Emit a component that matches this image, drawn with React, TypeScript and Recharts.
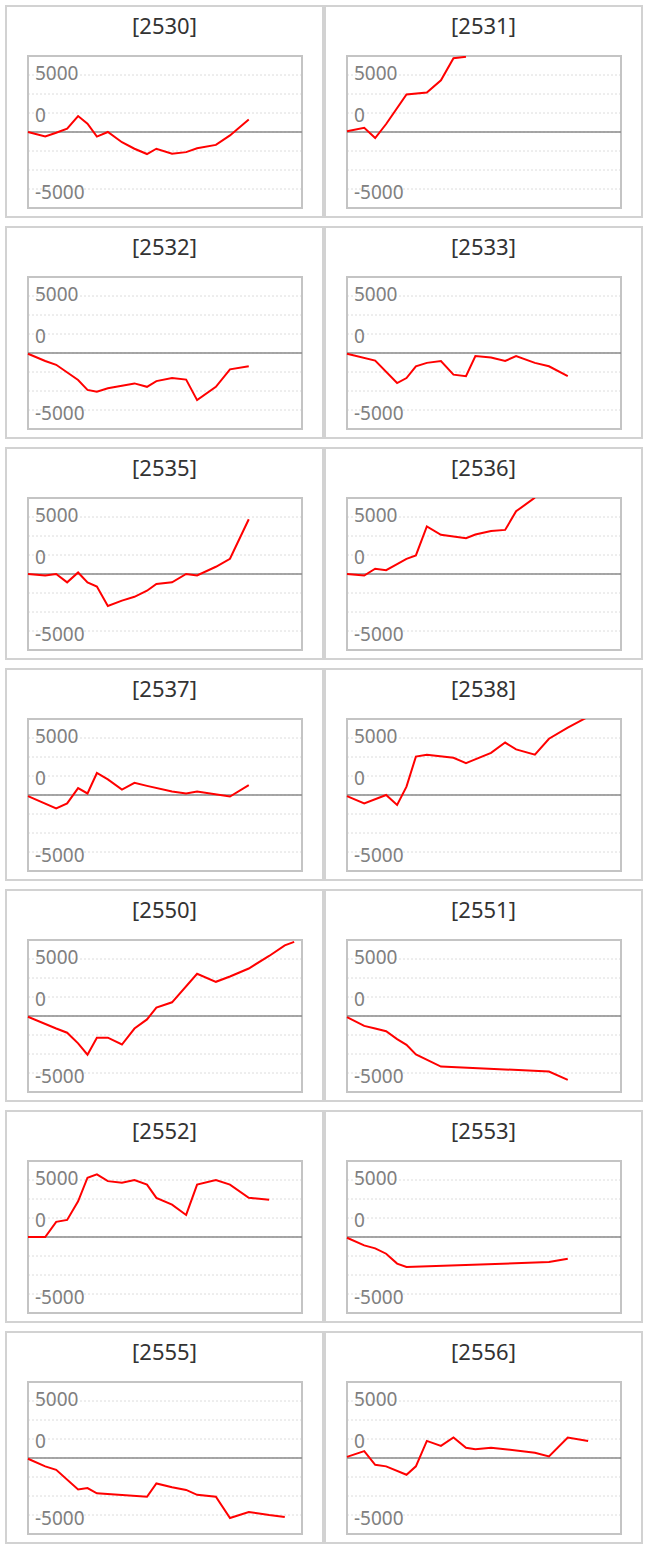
import React from "react";
import { LineChart, Line, XAxis, YAxis, CartesianGrid, ReferenceLine, ReferenceArea } from "recharts";

// shared observation dates (day offsets within the period)
const days = [0, 11, 18, 25, 32, 38, 44, 51, 60, 68, 76, 82, 92, 101, 108, 120, 129, 141, 154, 164, 170];

const codes = ["2530", "2531", "2532", "2533", "2535", "2536", "2537", "2538", "2550", "2551", "2552", "2553", "2555", "2556"];

const s2530 = [0, -600, -100, 450, 2100, 1100, -600, 0, -1350, -2200, -2900, -2200, -2850, -2650, -2150, -1700, -450, 1650, null, null, null];
const s2531 = [100, 550, -800, 1050, null, 4950, null, 5200, 6800, 9700, 9900, null, null, null, null, null, null, null, null, null, null];
const s2532 = [-100, -1050, -1550, null, -3550, -4850, -5100, -4650, null, -4000, -4450, -3700, -3300, -3500, -6200, -4450, -2150, -1750, null, null, null];
const s2533 = [-100, null, -1000, null, -3950, -3300, -1750, -1300, -1050, -2850, -3050, -400, -600, -1050, -400, -1300, -1750, -3050, null, null, null];
const s2535 = [0, -200, 0, -1100, 200, -1100, -1650, -4200, -3500, -3000, -2200, -1300, -1100, 0, -200, 950, 2000, 7200, null, null, null];
const s2536 = [0, -200, 700, 500, 1300, 2000, 2450, 6250, 5150, null, 4700, 5200, 5650, 5800, 8250, 10050, null, null, null, null, null];
const s2537 = [-150, null, -1750, -1100, 900, 200, 2900, 2050, 700, 1600, 1200, null, 450, 200, 450, null, -200, 1300, null, null, null];
const s2538 = [-150, -1100, null, 0, -1300, 1100, 5050, 5300, null, 4900, 4200, null, 5550, 6900, 6000, 5300, 7400, 8850, 10300, null, null];
const s2550 = [-100, null, -1650, -2200, -3600, -5100, -2850, -2850, -3750, -1650, -450, 1100, 1800, null, 5550, 4500, 5200, 6250, 7900, 9300, 9750];
const s2551 = [-150, -1300, -1650, -2000, -3050, -3800, -5050, null, -6650, null, null, null, null, null, null, null, -7300, -8400, null, null, null];
const s2552 = [0, 0, 2000, 2250, 4700, 7800, 8250, 7350, 7150, 7500, 6900, 5150, 4250, 2900, 6900, 7500, 6900, 5150, 4900, null, null];
const s2553 = [-100, -1100, -1500, -2200, -3500, -3950, null, null, null, null, null, null, null, null, null, null, -3300, -2850, null, null, null];
const s2555 = [-100, -1100, -1550, null, -4150, -3950, -4650, null, null, null, -5100, -3350, -3850, -4200, -4850, -5100, -7900, -7100, -7500, -7750, null];
const s2556 = [150, 900, -900, -1100, null, -2200, -1100, 2250, 1600, 2700, 1350, 1150, 1350, 1150, null, 700, 200, 2700, 2250, null, null];

const seriesList = [s2530, s2531, s2532, s2533, s2535, s2536, s2537, s2538, s2550, s2551, s2552, s2553, s2555, s2556];

// y axis: gridlines and the labels as printed on the picture
const gridTicks = [-10000, -7500, -5000, -2500, 0, 2500, 5000, 7500, 10000];
const labelTickValues = [7500, 2500, -7500];
const labelTickTexts = ["5000", "0", "-5000"];
const labelTickShift = [4.6, 9.3, 9.8];

const FONT = "'Noto Sans', 'Open Sans', sans-serif";
const M = 10;

function renderTick(props: any) {
  const v = props.payload && props.payload.value;
  const i = labelTickValues.indexOf(v);
  if (i < 0) return <g />;
  return (
    <text x={M + 7} y={props.y + labelTickShift[i]} fill="#808080" fontSize={19} fontFamily={FONT} textAnchor="start">
      {labelTickTexts[i]}
    </text>
  );
}

function Panel({ code, series, col, row }: { code: string; series: (number | null)[]; col: number; row: number }) {
  const data = days.map((d, i) => ({ day: d, v: series[i] }));
  return (
    <div
      style={{
        position: "absolute",
        left: 5 + col * 319,
        top: 5 + row * 221,
        width: 319,
        height: 213,
        border: "2px solid #d2d2d2",
        boxSizing: "border-box",
        background: "#fff",
      }}
    >
      <div
        style={{
          position: "absolute",
          top: 5,
          left: 0,
          width: "100%",
          textAlign: "center",
          fontSize: 22,
          lineHeight: "26px",
          color: "#333",
          fontFamily: FONT,
        }}
      >
        [{code}]
      </div>
      <div style={{ position: "absolute", left: 10.5, top: 39 }}>
        <LineChart width={274 + 2 * M} height={152 + 2 * M} data={data} margin={{ top: M, right: M, bottom: M, left: M - 1 }}>
          <XAxis dataKey="day" type="number" domain={[0, 175]} hide />
          <YAxis
            type="number"
            domain={[-10000, 10000]}
            ticks={gridTicks}
            allowDataOverflow
            width={1}
            axisLine={false}
            tickLine={false}
            tick={renderTick}
            interval={0}
          />
          <CartesianGrid vertical={false} stroke="#dcdcdc" strokeDasharray="2 2" />
          <ReferenceArea x1={0} x2={175} y1={-10000} y2={10000} fill="none" fillOpacity={0} stroke="#c4c4c4" strokeWidth={2} />
          <ReferenceLine y={0} stroke="#8a8a8a" strokeWidth={1.6} />
          <Line
            type="linear"
            dataKey="v"
            stroke="#ff0000"
            strokeWidth={2}
            dot={false}
            connectNulls
            isAnimationActive={false}
          />
        </LineChart>
      </div>
    </div>
  );
}

export default function App() {
  return (
    <div style={{ position: "relative", width: 649, height: 1549, background: "#fff" }}>
      <style>{"body{margin:0;background:#fff;}"}</style>
      {codes.map((c, i) => (
        <Panel key={c} code={c} series={seriesList[i]} col={i % 2} row={Math.floor(i / 2)} />
      ))}
    </div>
  );
}
